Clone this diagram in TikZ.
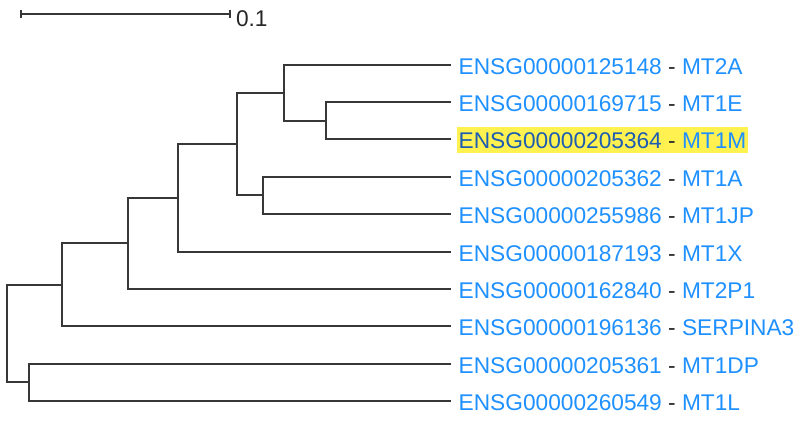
\documentclass[tikz,border=0pt]{standalone}
\usepackage{fontspec}
\setmainfont{Liberation Sans}
\usetikzlibrary{positioning}
\definecolor{idcol}{RGB}{30,144,255}
\definecolor{genecol}{RGB}{30,144,255}
\definecolor{iddark}{RGB}{28,92,178}
\definecolor{hlyellow}{RGB}{255,242,80}
\definecolor{treegray}{RGB}{55,55,55}
\tikzset{branch/.style={draw=treegray, line width=1.8pt},
  leaf/.style={anchor=west, inner xsep=1.5pt, inner ysep=4.9pt, text height=16.2pt, text depth=0pt, text=black!85, font=\fontsize{22.7}{26}\selectfont},
  leafhl/.style={leaf, fill=hlyellow, execute at begin node={\colorlet{idcol}{iddark}}}}

\begin{document}
\begin{tikzpicture}[x=1pt, y=-1pt]
  \useasboundingbox (0,0) rectangle (798,421);

  % scale bar
  \coordinate (s0) at (21,14);
  \coordinate (s1) at (230,14);
  \draw[branch] (s0) -- (s1);
  \draw[branch] ([yshift=4pt]s0) -- ([yshift=-4pt]s0);
  \draw[branch] ([yshift=4pt]s1) -- ([yshift=-4pt]s1);
  \node[anchor=base west, inner sep=0pt, text=black!85, font=\fontsize{22.7}{26}\selectfont] (slabel) at (235.8,26.7) {0.1};

  % leaves
  \foreach \i/\id/\gene/\sty in {1/ENSG00000125148/MT2A/leaf, 2/ENSG00000169715/MT1E/leaf, 3/ENSG00000205364/MT1M/leafhl, 4/ENSG00000205362/MT1A/leaf, 5/ENSG00000255986/MT1JP/leaf, 6/ENSG00000187193/MT1X/leaf, 7/ENSG00000162840/MT2P1/leaf, 8/ENSG00000196136/SERPINA3/leaf, 9/ENSG00000205361/MT1DP/leaf, 10/ENSG00000260549/MT1L/leaf}{
    \coordinate (l\i) at (451,{round(64.6+37.4*(\i-1))});
    \node[\sty, right = 6pt of l\i, yshift=-1pt] (t\i) {\textcolor{idcol}{\id} - \textcolor{genecol}{\gene}};
  }

  % inner nodes
  \coordinate (a) at (326,121);
  \coordinate (b) at (284,93);
  \coordinate (c) at (263,195);
  \coordinate (d) at (237,144);
  \coordinate (e) at (178,198);
  \coordinate (f) at (128,243);
  \coordinate (g) at (62,285);
  \coordinate (h) at (29,382);
  \coordinate (r) at (7,334);

  \draw[branch] (l2) -| (a) |- (l3);
  \draw[branch] (l1) -| (b) |- (a);
  \draw[branch] (l4) -| (c) |- (l5);
  \draw[branch] (b) -| (d) |- (c);
  \draw[branch] (d) -| (e) |- (l6);
  \draw[branch] (e) -| (f) |- (l7);
  \draw[branch] (f) -| (g) |- (l8);
  \draw[branch] (l9) -| (h) |- (l10);
  \draw[branch] (g) -| (r) |- (h);
\end{tikzpicture}
\end{document}
